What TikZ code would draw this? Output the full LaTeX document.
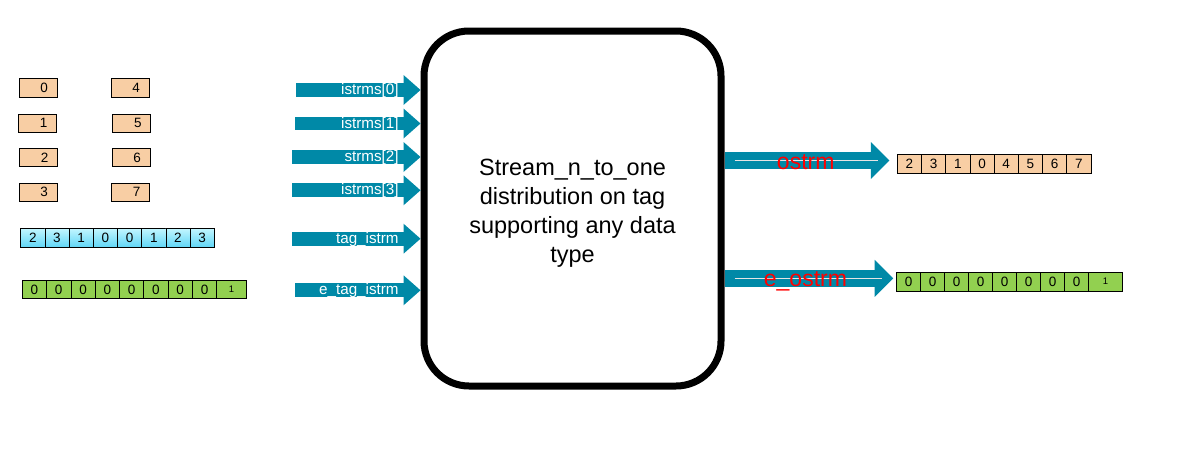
\documentclass[tikz,border=0pt]{standalone}
\usepackage{fontspec}
\setmainfont{Liberation Sans}
\usetikzlibrary{positioning, arrows.meta}

\definecolor{flowteal}{RGB}{0,137,167}
\definecolor{peach}{RGB}{248,206,164}
\definecolor{leaf}{RGB}{146,208,80}
\definecolor{skytop}{RGB}{192,245,255}
\definecolor{skybot}{RGB}{96,214,246}

\begin{document}
\begin{tikzpicture}[x=1pt, y=-1pt,
    box/.style={draw, line width=0.8pt, inner sep=0pt, outer sep=0pt,
                minimum height=18.5pt, font=\fontsize{13.5}{15}\selectfont},
    single/.style={box, fill=peach, minimum width=38pt, text width=20pt, align=right},
    cell/.style={box, minimum width=24.2pt, anchor=west},
    tagcell/.style={cell, top color=skytop, bottom color=skybot},
    block/.style={draw, line width=7pt, rounded corners=45pt, minimum width=297pt,
                  minimum height=355pt, align=center, font=\fontsize{23.5}{29}\selectfont},
    inflow/.style={color=flowteal, line width=13.8pt,
                   -{Triangle[length=17pt 0 0, width=30pt 0 0, line width=0pt 0 0]}},
    outflow/.style={color=flowteal, line width=17.5pt,
                    -{Triangle[length=18.5pt 0 0, width=37pt 0 0, line width=0pt 0 0]}},
    glint/.style={draw=white!90!black, line width=1.3pt},
    inlbl/.style={anchor=east, xshift=-15pt, inner sep=0pt, text=white,
                  text height=9pt, text depth=0pt, font=\fontsize{15.2}{17}\selectfont},
    outlbl/.style={inner sep=0pt, text=red, text height=17pt, text depth=0pt,
                   font=\fontsize{23}{25}\selectfont}
]
\useasboundingbox (0,0) rectangle (1194,461);

% single values fed into the streams
\node[single] (sb_0) at (38,88) {0};
\node[single] (sb_1) at (37.5,123.2) {1};
\node[single] (sb_2) at (38.5,157.5) {2};
\node[single] (sb_3) at (38,192.3) {3};
\node[single] (sb_4) at (130,88) {4};
\node[single] (sb_5) at (131.7,123.2) {5};
\node[single] (sb_6) at (131,157.5) {6};
\node[single] (sb_7) at (130.5,192.3) {7};

% tag and end flags
\foreach \v [count=\i from 0] in {2,3,1,0,0,1,2,3}
    \node[tagcell] (tag_\i) at ({20.7+24.2*\i},238) {\v};
\foreach \i in {0,...,7}
    \node[cell, fill=leaf, minimum width=24.3pt] (etag_\i) at ({22.3+24.3*\i},289.5) {0};
\node[cell, fill=leaf, minimum width=29.6pt, font=\fontsize{9.5}{11}\selectfont]
    (etag_8) [right=0pt of etag_7] {1};

% the block
\node[block] (core) at (572.5,208.5)
    {\rule{0pt}{25pt}Stream\_n\_to\_one\\distribution on tag\\supporting any data\\type};

% inputs
\coordinate (in_0) at (296,90);
\coordinate (in_1) at (295,123.5);
\coordinate (in_2) at (292,157);
\coordinate (in_3) at (292,190.3);
\coordinate (in_4) at (292,238.7);
\coordinate (in_5) at (295,290.3);
\draw[inflow] (in_0) -- (core.west |- in_0) node[inlbl] {istrms[0]};
\draw[inflow] (in_1) -- (core.west |- in_1) node[inlbl] {istrms[1]};
\draw[inflow] (in_2) -- (core.west |- in_2) node[inlbl] {strms[2]};
\draw[inflow] (in_3) -- (core.west |- in_3) node[inlbl] {istrms[3]};
\draw[inflow] (in_4) -- (core.west |- in_4) node[inlbl] {tag\_istrm};
\draw[inflow] (in_5) -- (core.west |- in_5) node[inlbl] {e\_tag\_istrm};

% outputs
\foreach \v [count=\i from 0] in {2,3,1,0,4,5,6,7}
    \node[cell, fill=peach, minimum height=19.3pt] (ostrm_\i) at ({897.3+24.2*\i},163.7) {\v};
\foreach \i in {0,...,7}
    \node[cell, fill=leaf, minimum width=24pt] (eostrm_\i) at ({896.7+24*\i},281.7) {0};
\node[cell, fill=leaf, minimum width=33.7pt, font=\fontsize{9.5}{11}\selectfont]
    (eostrm_8) [right=0pt of eostrm_7] {1};

\coordinate (out_0) at (730,160.5);
\coordinate (out_1) at (730,278.3);
\draw[outflow, shorten >=8pt] (core.east |- out_0) -- (ostrm_0.west |- out_0);
\draw[outflow, shorten >=3.5pt] (core.east |- out_1) -- (eostrm_0.west |- out_1);
\draw[glint, shorten <=10pt, shorten >=19pt] (core.east |- out_0) -- (ostrm_0.west |- out_0)
    node[outlbl, pos=0.47] {ostrm};
\draw[glint, shorten <=10pt, shorten >=15pt] (core.east |- out_1) -- (eostrm_0.west |- out_1)
    node[outlbl, pos=0.47] {e\_ostrm};

\end{tikzpicture}
\end{document}
